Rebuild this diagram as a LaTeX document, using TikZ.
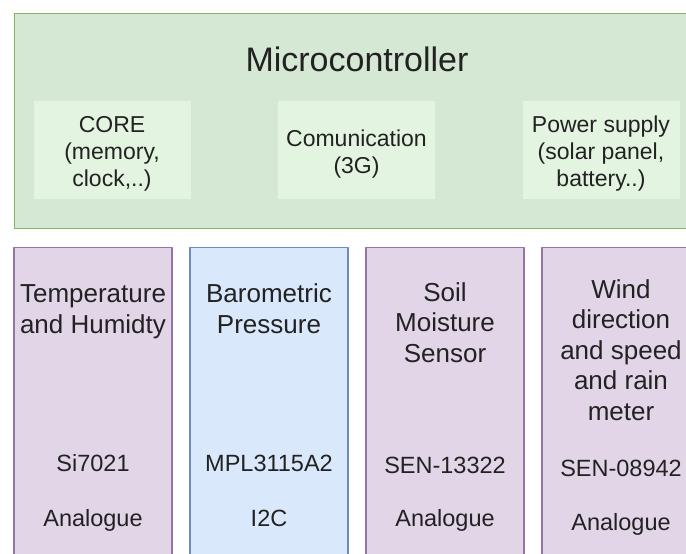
\documentclass[tikz,border=0pt]{standalone}
\usepackage{fontspec}
\setmainfont{Liberation Sans}
\usetikzlibrary{positioning}

\definecolor{mcufill}{HTML}{D5E8D4}
\definecolor{mculine}{HTML}{82B366}
\definecolor{unitfill}{HTML}{E3F4E0}
\definecolor{purplefill}{HTML}{E1D5E7}
\definecolor{purpleline}{HTML}{9673A6}
\definecolor{bluefill}{HTML}{DAE8FC}
\definecolor{blueline}{HTML}{6C8EBF}
\definecolor{txt}{HTML}{222222}

\begin{document}
\begin{tikzpicture}[x=1pt, y=-1pt, line join=round,
    mcu/.style={draw=mculine, fill=mcufill, line width=1.3pt, inner sep=0pt, anchor=north west},
    unit/.style={fill=unitfill, inner sep=0pt, minimum width=157pt, minimum height=98pt},
    unittext/.style={align=center, inner sep=0pt, anchor=base, text=txt, font=\fontsize{23}{27}\selectfont},
    sensor/.style={line width=1.3pt, inner sep=0pt, minimum width=158pt, minimum height=360pt, anchor=north},
    purplebox/.style={sensor, draw=purpleline, fill=purplefill},
    bluebox/.style={sensor, draw=blueline, fill=bluefill},
    title/.style={align=center, inner sep=0pt, anchor=base, text=txt, font=\fontsize{26}{30.5}\selectfont},
    info/.style={inner sep=0pt, anchor=base, text=txt, font=\fontsize{23.5}{28}\selectfont}
  ]
    % Parameters
    \def\top{246.7}    % top edge of sensor boxes
    \useasboundingbox (0,0) rectangle (686,554);
    \clip (0,0) rectangle (686,554);

    % microcontroller frame and its units
    \node[mcu, minimum width=686pt, minimum height=215pt] (mcu) at (14,13) {};
    \node[inner sep=0pt, anchor=base, text=txt, font=\fontsize{34}{40}\selectfont] (mcutitle) at (357,71) {Microcontroller};

    \node[unit] (core) at (112,150) {};
    \node[unit] (comm) at (356.5,150) {};
    \node[unit] (power) at (601,150) {};
    % anchor=base sits on the last line
    \node[unittext] (coretext) at (112,186.7) {CORE\\(memory,\\clock,..)};
    \node[unittext] (commtext) at (356.5,173) {Comunication\\(3G)};
    \node[unittext] (powertext) at (601,186.5) {Power supply\\(solar panel,\\battery..)};

    % sensor boxes
    \node[purplebox] (temp) at (93,\top) {};
    \node[bluebox] (baro) at (269,\top) {};
    \node[purplebox] (soil) at (445,\top) {};
    \node[purplebox] (wind) at (621,\top) {};

    % sensor labels
    \node[title] (temptitle) at (93,333) {Temperature\\and Humidty};
    \node[title] (barotitle) at (269,333) {Barometric\\Pressure};
    \node[title] (soiltitle) at (445,362) {Soil\\Moisture\\Sensor};
    \node[title] (windtitle) at (621,420) {Wind\\direction\\and speed\\and rain\\meter};

    \node[info] (temppart) at (93,471) {Si7021};
    \node[info] (baropart) at (269,471) {MPL3115A2};
    \node[info] (soilpart) at (445,473) {SEN-13322};
    \node[info] (windpart) at (621,476) {SEN-08942};

    \node[info] (tempbus) at (93,526) {Analogue};
    \node[info] (barobus) at (269,526) {I2C};
    \node[info] (soilbus) at (445,526) {Analogue};
    \node[info] (windbus) at (621,530) {Analogue};
  \end{tikzpicture}
\end{document}
